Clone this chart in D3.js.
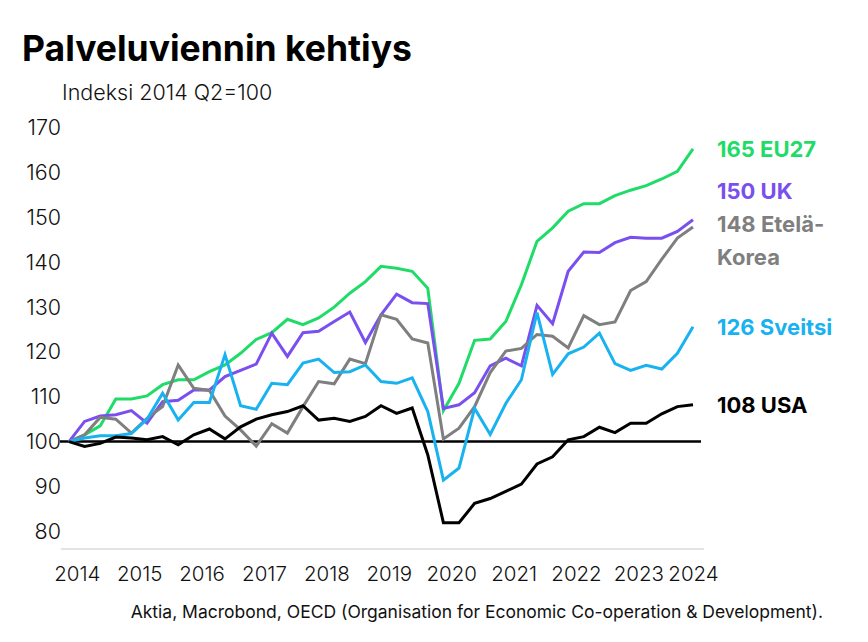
<!DOCTYPE html>
<html><head><meta charset="utf-8">
<script src="https://cdn.jsdelivr.net/npm/d3@7"></script>
<style>
body{margin:0;background:#fff;}
text{font-family:Inter,"Noto Sans",sans-serif;}
</style></head>
<body><svg id="c" width="868" height="642"></svg>
<script>
// quarters 2014Q2 .. 2024Q2
const startYear = 2014, startQuarter = 2, nQuarters = 41;
const yTicks = [80, 90, 100, 110, 120, 130, 140, 150, 160, 170];
const xTickYears = [2014, 2015, 2016, 2017, 2018, 2019, 2020, 2021, 2022, 2023, 2024];

const eu27 = [100, 101.5, 103.5, 109.5, 109.5, 110.2, 112.7, 113.8, 113.8, 115.6, 117.1, 119.7, 122.8, 124.3, 127.3, 126.1, 127.6, 130.0, 133.1, 135.7, 139.1, 138.7, 138.0, 134.2, 106.9, 113.0, 122.6, 122.9, 126.8, 135.0, 144.7, 147.7, 151.4, 153.1, 153.1, 154.9, 156.1, 157.1, 158.6, 160.3, 165.3];
const uk = [100, 104.5, 105.7, 106.0, 106.9, 104.1, 108.9, 109.2, 111.5, 111.5, 114.5, 115.9, 117.3, 124.2, 119.0, 124.3, 124.6, 126.8, 128.9, 122.1, 128.3, 132.9, 131.0, 130.8, 107.4, 108.2, 110.9, 116.9, 118.6, 116.9, 130.4, 126.3, 138.0, 142.3, 142.2, 144.4, 145.6, 145.4, 145.4, 146.9, 149.5];
const korea = [100, 101.5, 105.4, 105.0, 101.9, 105.2, 107.8, 117.1, 111.9, 111.4, 105.7, 102.6, 99.0, 104.0, 101.9, 107.8, 113.4, 112.9, 118.4, 117.4, 128.3, 127.3, 122.9, 122.0, 100.6, 103.0, 107.8, 115.4, 120.2, 120.8, 123.9, 123.5, 120.9, 128.1, 126.1, 126.7, 133.7, 135.7, 140.7, 145.4, 147.9];
const switzerland = [100, 100.8, 101.3, 101.3, 101.8, 105.0, 110.8, 104.8, 108.7, 108.7, 119.4, 108.0, 107.2, 113.0, 112.7, 117.5, 118.4, 115.4, 115.6, 117.1, 113.4, 113.0, 114.2, 106.7, 91.4, 94.1, 107.4, 101.6, 108.5, 113.8, 128.8, 115.0, 119.6, 121.1, 124.2, 117.4, 115.9, 117.0, 116.2, 119.7, 125.6];
const usa = [100, 98.9, 99.6, 101.0, 100.8, 100.4, 101.1, 99.3, 101.5, 102.8, 100.6, 103.3, 105.0, 106.0, 106.7, 108.0, 104.8, 105.2, 104.5, 105.6, 108.0, 106.3, 107.5, 97.0, 81.9, 81.9, 86.2, 87.3, 88.9, 90.5, 95.0, 96.6, 100.4, 101.1, 103.2, 102.0, 104.1, 104.1, 106.2, 107.8, 108.2];

const seriesNames = ["EU27", "UK", "Etelä-Korea", "Sveitsi", "USA"];
const seriesValues = [eu27, uk, korea, switzerland, usa];
const seriesColors = ["#1fdc68", "#7a4ff0", "#7f7f7f", "#19b2f0", "#000000"];

const title = "Palveluviennin kehtiys";
const subtitle = "Indeksi 2014 Q2=100";
const source = "Aktia, Macrobond, OECD (Organisation for Economic Co-operation & Development).";

// time of each quarter = mid-quarter, fractional year
const times = d3.range(nQuarters).map(i => {
  const q = startQuarter - 1 + i;
  return startYear + Math.floor(q / 4) + ((q % 4) + 0.5) / 4;
});

const svg = d3.select("#c");
const x = d3.scaleLinear().domain([times[0], times[times.length - 1]]).range([69, 693]);
const y = d3.scaleLinear().domain([80, 170]).range([531.2, 127.9]);

// title & subtitle
svg.append("text").attr("x", 22).attr("y", 61).attr("font-size", 35.5).attr("font-weight", 700)
  .attr("fill", "#000").text(title);
svg.append("text").attr("x", 62).attr("y", 100).attr("font-size", 21.5).attr("font-weight", 300)
  .attr("fill", "#111").text(subtitle);

// y axis labels
const yAxis = d3.axisLeft(y).tickValues(yTicks).tickSize(0).tickPadding(0);
const gy = svg.append("g").attr("transform", "translate(61,0)").call(yAxis);
gy.select(".domain").remove();
gy.selectAll("text").attr("font-size", 21.5).attr("font-weight", 300).attr("fill", "#111")
  .attr("font-family", "Inter, 'Noto Sans', sans-serif");

// x axis
const xDomainEnd = x.domain()[1];
const xAxis = d3.axisBottom(x)
  .tickValues(xTickYears.map(yr => Math.min(yr + 0.5, xDomainEnd)))
  .tickFormat((d, i) => String(xTickYears[i])).tickSize(0).tickPadding(0);
const gx = svg.append("g").attr("transform", "translate(0,566)").call(xAxis);
gx.select(".domain").remove();
gx.selectAll("text").attr("font-size", 20.5).attr("font-weight", 300).attr("fill", "#111")
  .attr("font-family", "Inter, 'Noto Sans', sans-serif");

// bottom gray axis line
svg.append("line").attr("x1", 61).attr("x2", 704).attr("y1", 549).attr("y2", 549)
  .attr("stroke", "#c8c8c8").attr("stroke-width", 1.2);

// 100 baseline
svg.append("line").attr("x1", 60).attr("x2", 701).attr("y1", y(100)).attr("y2", y(100))
  .attr("stroke", "#000").attr("stroke-width", 2.5);

// lines
const line = d3.line().x((d, i) => x(times[i])).y(d => y(d));
seriesValues.forEach((vals, k) => {
  svg.append("path").datum(vals).attr("d", line).attr("fill", "none")
    .attr("stroke", seriesColors[k]).attr("stroke-width", 3).attr("stroke-linejoin", "miter");
});

// end labels with dodge (bottom-up)
const labelItems = seriesValues.map((vals, k) => {
  const last = vals[vals.length - 1];
  const name = seriesNames[k];
  const lines = name === "Etelä-Korea" ? [Math.round(last) + " Etelä-", "Korea"] : [Math.round(last) + " " + name];
  return { k, lines, yv: y(last) };
}).sort((a, b) => b.yv - a.yv);
const lineH = 33, gap = 36;
let prevTop = Infinity;
labelItems.forEach(it => {
  let yy = Math.min(it.yv, prevTop - gap);
  it.yPos = yy;
  prevTop = yy;
});
labelItems.forEach(it => {
  it.lines.forEach((t, j) => {
    svg.append("text").attr("x", 717).attr("y", it.yPos - (it.lines.length > 1 ? 3 : 0) + j * lineH).attr("dy", "0.35em")
      .attr("font-size", 22).attr("font-weight", 700).attr("fill", seriesColors[it.k]).text(t);
  });
});

// source
svg.append("text").attr("x", 823).attr("y", 618).attr("text-anchor", "end")
  .attr("font-size", 17.5).attr("font-weight", 400).attr("fill", "#111").text(source);
</script></body></html>
